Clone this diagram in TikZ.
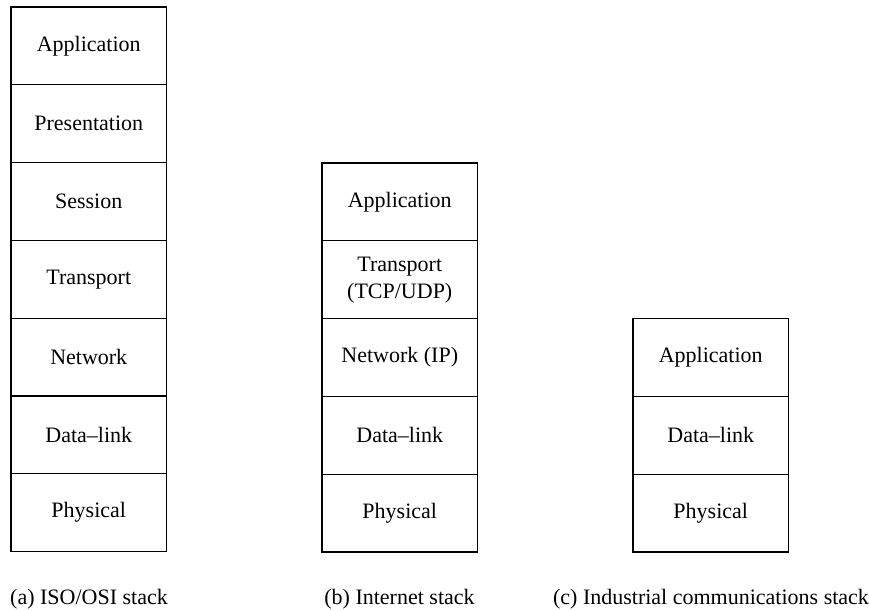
\documentclass[tikz,border=0pt]{standalone}
\usepackage{fontspec}
\setmainfont{Liberation Serif}
\begin{document}
\begin{tikzpicture}[x=1pt,y=-1pt,
  layer/.style={draw, line width=1.1pt, minimum width=155.5pt, minimum height=77.8pt,
    inner sep=0pt, outer sep=0pt, anchor=north west, align=center,
    font=\fontsize{22}{27}\selectfont},
  caption/.style={anchor=base, inner sep=0pt, font=\fontsize{22}{26}\selectfont}]
\useasboundingbox (0,0) rectangle (869,610);
% ISO/OSI stack
\node[layer] (a1) at (11,7.0)   {Application};
\node[layer] (a2) at (11,84.8)  {Presentation};
\node[layer] (a3) at (11,162.6) {Session};
\node[layer] (a4) at (11,240.4) {Transport};
\node[layer] (a5) at (11,318.2) {Network};
\node[layer] (a6) at (11,396.0) {Data--link};
\node[layer] (a7) at (11,473.8) {Physical};
\node[caption] (ca) at (89,604) {(a) ISO/OSI stack};
% Internet stack
\node[layer] (b1) at (322,163.0) {Application};
\node[layer] (b2) at (322,240.8) {Transport\\(TCP/UDP)};
\node[layer] (b3) at (322,318.6) {Network (IP)};
\node[layer] (b4) at (322,396.4) {Data--link};
\node[layer] (b5) at (322,474.2) {Physical};
\node[caption] (cb) at (399.5,604) {(b) Internet stack};
% Industrial communications stack
\node[layer] (c1) at (633,318.6) {Application};
\node[layer] (c2) at (633,396.4) {Data--link};
\node[layer] (c3) at (633,474.2) {Physical};
\node[caption] (cc) at (711,604) {(c) Industrial communications stack};
\end{tikzpicture}
\end{document}
